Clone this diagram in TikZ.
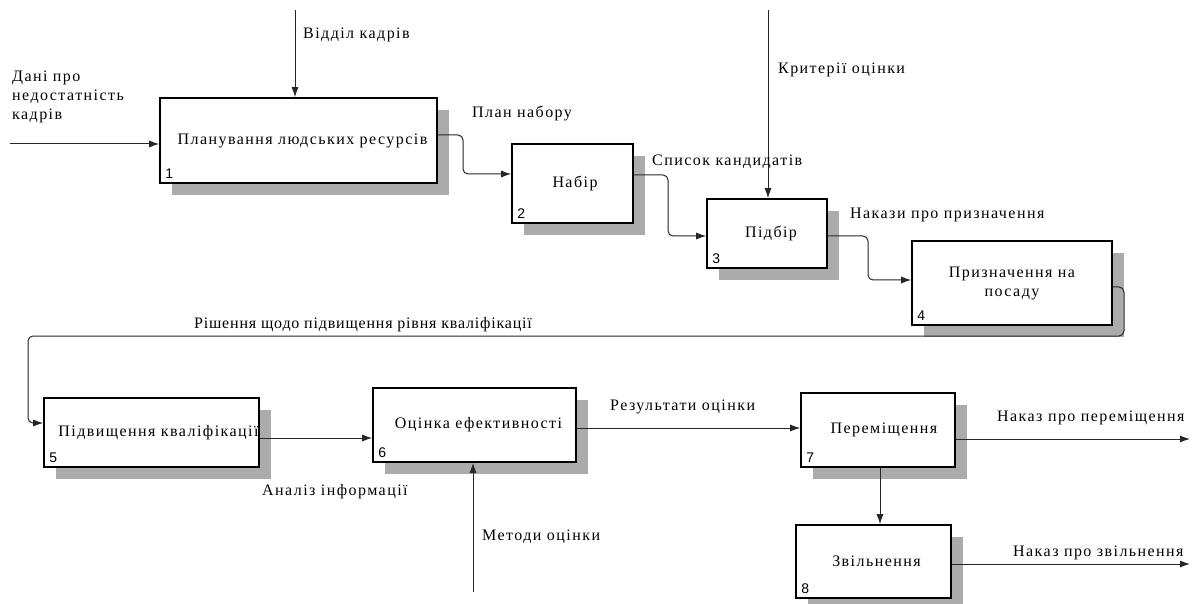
\documentclass[tikz,border=0pt]{standalone}
\usepackage{fontspec}
\setmainfont{Liberation Serif}[LetterSpace=9]
\newfontfamily\numfont{Liberation Sans}
\usetikzlibrary{arrows.meta,shadows}
\begin{document}
\begin{tikzpicture}[x=1pt,y=-1pt,
  font=\fontsize{16}{19}\selectfont,
  func/.style={draw=black, line width=1.6pt, fill=white, inner sep=0pt, align=center,
    drop shadow={shadow xshift=12pt, shadow yshift=-12pt, fill=black!33, opacity=1}},
  num/.style={anchor=south west, inner xsep=6pt, inner ysep=5pt, font=\numfont\fontsize{14}{16}\selectfont},
  arr/.style={draw=black!85, line width=1pt, -{Latex[length=10pt,width=7pt]}},
  conn/.style={arr, rounded corners=5pt},
  lbl/.style={anchor=west, inner sep=0pt}]
\useasboundingbox (0,0) rectangle (1192,604);

% functions
\node[func, minimum width=277pt, minimum height=85pt] (b1) at (298.5,140.5) {\hspace*{8pt}Планування людських ресурсів};
\node[func, minimum width=121pt, minimum height=79pt] (b2) at (572.5,183.5) {\hspace*{5pt}Набір};
\node[func, minimum width=120pt, minimum height=69pt] (b3) at (767,233.5) {\hspace*{8pt}Підбір};
\node[func, minimum width=200pt, minimum height=84pt] (b4) at (1012,283) {Призначення на\\посаду};
\node[func, minimum width=215pt, minimum height=69pt] (b5) at (151.5,432.5) {\hspace*{14pt}Підвищення кваліфікації};
\node[func, minimum width=203pt, minimum height=74pt] (b6) at (474.5,425) {\hspace*{8pt}Оцінка ефективності};
\node[func, minimum width=154pt, minimum height=74pt] (b7) at (878,430) {\hspace*{12pt}Переміщення};
\node[func, minimum width=155pt, minimum height=73pt] (b8) at (873.5,561.5) {\hspace*{6pt}Звільнення};

\node[num] (n1) at (b1.south west) {1};
\node[num] (n2) at (b2.south west) {2};
\node[num] (n3) at (b3.south west) {3};
\node[num] (n4) at (b4.south west) {4};
\node[num] (n5) at (b5.south west) {5};
\node[num] (n6) at (b6.south west) {6};
\node[num] (n7) at (b7.south west) {7};
\node[num] (n8) at (b8.south west) {8};

% free ends
\coordinate (in1) at (10,144);
\coordinate (c1) at (295,10);
\coordinate (c3) at (768,10);
\coordinate (m6) at (473,592);
\coordinate (o7) at (1190,439);
\coordinate (o8) at (1190,564);

% connectors
\draw[arr] (in1) -- (b1.west |- in1);
\draw[arr] (c1) -- (c1 |- b1.north);
\draw[conn] (b1.east |- 0,135) -- (463,135) -- (463,174) -- (b2.west |- 0,174);
\draw[conn] (b2.east |- 0,175) -- (668,175) -- (668,236) -- (b3.west |- 0,236);
\draw[arr] (c3) -- (c3 |- b3.north);
\draw[conn] (b3.east |- 0,236) -- (868,236) -- (868,280) -- (b4.west |- 0,280);
\draw[conn] (b4.east |- 0,287) -- (1124,287) -- (1124,336) -- (28,336) -- (28,423) -- (b5.west |- 0,423);
\draw[arr] (b5.east |- 0,438) -- (b6.west |- 0,438);
\draw[arr] (m6) -- (m6 |- b6.south);
\draw[arr] (b6.east |- 0,428) -- (b7.west |- 0,428);
\draw[arr] (b7.east |- o7) -- (o7);
\draw[arr] ([xshift=2pt]b7.south) -- ([xshift=2pt]b7.south |- b8.north);
\draw[arr] (b8.east |- o8) -- (o8);

% labels
\node[lbl, align=left, anchor=north west] (l0) at (12,71) {Дані про\\недостатність\\кадрів};
\node[lbl] (l1) at (303,35) {Відділ кадрів};
\node[lbl] (l2) at (472,114) {План набору};
\node[lbl] (l3) at (652,162) {Список кандидатів};
\node[lbl] (l4) at (778,70) {Критерії оцінки};
\node[lbl] (l5) at (850,215) {Накази про призначення};
\node[lbl, font=\addfontfeature{LetterSpace=5}\fontsize{16}{19}\selectfont] (l6) at (194,325) {Рішення щодо підвищення рівня кваліфікації};
\node[lbl] (l7) at (262,492) {Аналіз інформації};
\node[lbl] (l8) at (482,537) {Методи оцінки};
\node[lbl] (l9) at (610,407) {Результати оцінки};
\node[lbl] (l10) at (997,418) {Наказ про переміщення};
\node[lbl] (l11) at (1013,553) {Наказ про звільнення};
\end{tikzpicture}
\end{document}
